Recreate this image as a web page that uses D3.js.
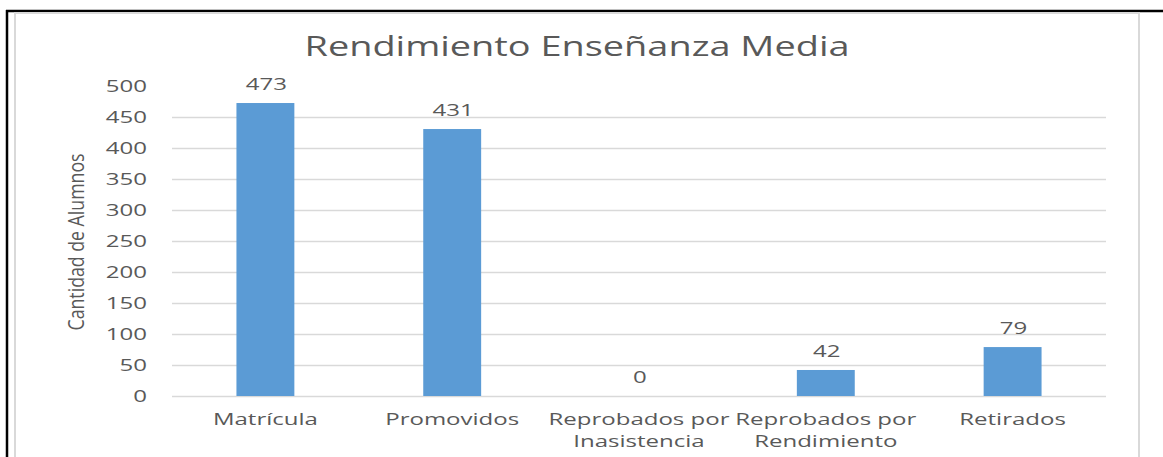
<!DOCTYPE html>
<html>
<head>
<meta charset="utf-8">
<script src="https://cdn.jsdelivr.net/npm/d3@7"></script>
<style>
  body { margin: 0; background: #fff; }
  svg { display: block; }
</style>
</head>
<body>
<svg id="chart" width="1163" height="457"></svg>
<script>
const categories = [
  ['Matrícula'],
  ['Promovidos'],
  ['Reprobados por', 'Inasistencia'],
  ['Reprobados por', 'Rendimiento'],
  ['Retirados'],
];
const values = [473, 431, 0, 42, 79];
const yTicks = [0, 50, 100, 150, 200, 250, 300, 350, 400, 450, 500];
const gridTicks = [0, 50, 100, 150, 200, 250, 300, 350, 400, 450];
const title = 'Rendimiento Enseñanza Media';
const yTitle = 'Cantidad de Alumnos';

const svg = d3.select('#chart');
const textColor = '#595959';
const font = 'Open Sans, DejaVu Sans, sans-serif';

// stretch text glyphs horizontally, like the wide rendering in the original
function stretch(sel, k) {
  sel.each(function () {
    const len = this.getComputedTextLength();
    d3.select(this)
      .attr('textLength', len * k)
      .attr('lengthAdjust', 'spacingAndGlyphs');
  });
}

// outer frame (black) and chart area frame (grey)
svg.append('line').attr('x1', 7).attr('x2', 7).attr('y1', 10).attr('y2', 457)
  .attr('stroke', '#000').attr('stroke-width', 2.5);
svg.append('line').attr('x1', 6).attr('x2', 1163).attr('y1', 11).attr('y2', 11)
  .attr('stroke', '#000').attr('stroke-width', 2.5);
svg.append('path').attr('d', 'M15,457V13H1139V457')
  .attr('fill', 'none').attr('stroke', '#d9d9d9').attr('stroke-width', 2);

const x = d3.scaleBand()
  .domain(d3.range(categories.length))
  .range([172, 1106])
  .paddingInner(0.69)
  .paddingOuter(0.345);

const y = d3.scaleLinear()
  .domain([0, 500])
  .range([396, 86.3]);

// gridlines
svg.append('g')
  .selectAll('line')
  .data(gridTicks)
  .join('line')
  .attr('x1', 172)
  .attr('x2', 1106)
  .attr('y1', (d) => Math.round(y(d)) + 0.5)
  .attr('y2', (d) => Math.round(y(d)) + 0.5)
  .attr('stroke', '#d9d9d9')
  .attr('stroke-width', 1.3);

// y axis labels
const yAxis = svg.append('g')
  .attr('transform', 'translate(147,0)')
  .call(d3.axisLeft(y).tickValues(yTicks).tickSize(0).tickPadding(0));
yAxis.select('.domain').remove();
yAxis.selectAll('text')
  .attr('fill', textColor)
  .style('font-family', font)
  .style('font-size', '16px')
  .call(stretch, 1.5);

// bars
svg.append('g')
  .selectAll('rect')
  .data(values)
  .join('rect')
  .attr('x', (d, i) => x(i))
  .attr('y', (d) => y(d))
  .attr('width', x.bandwidth())
  .attr('height', (d) => y(0) - y(d))
  .attr('fill', '#5b9bd5');

// value labels
svg.append('g')
  .selectAll('text')
  .data(values)
  .join('text')
  .attr('x', (d, i) => x(i) + x.bandwidth() / 2 + 1)
  .attr('y', (d) => y(d) - 13)
  .attr('text-anchor', 'middle')
  .attr('fill', textColor)
  .style('font-family', font)
  .style('font-size', '16px')
  .text((d) => d)
  .call(stretch, 1.5);

// category labels, one text per line
const catLines = categories.flatMap((lines, i) => lines.map((t, j) => ({ t, i, j })));
svg.append('g')
  .selectAll('text')
  .data(catLines)
  .join('text')
  .attr('x', (d) => x(d.i) + x.bandwidth() / 2)
  .attr('y', (d) => 425 + d.j * 22)
  .attr('text-anchor', 'middle')
  .attr('fill', textColor)
  .style('font-family', font)
  .style('font-size', '16px')
  .text((d) => d.t)
  .call(stretch, 1.5);

// title
svg.append('text')
  .attr('x', 577)
  .attr('y', 56)
  .attr('text-anchor', 'middle')
  .attr('fill', textColor)
  .attr('textLength', 545)
  .attr('lengthAdjust', 'spacingAndGlyphs')
  .style('font-family', font)
  .style('font-size', '27px')
  .text(title);

// y axis title
svg.append('text')
  .attr('transform', 'translate(84,242) rotate(-90)')
  .attr('text-anchor', 'middle')
  .attr('fill', textColor)
  .attr('textLength', 177)
  .attr('lengthAdjust', 'spacingAndGlyphs')
  .style('font-family', font)
  .style('font-size', '22px')
  .text(yTitle);
</script>
</body>
</html>
